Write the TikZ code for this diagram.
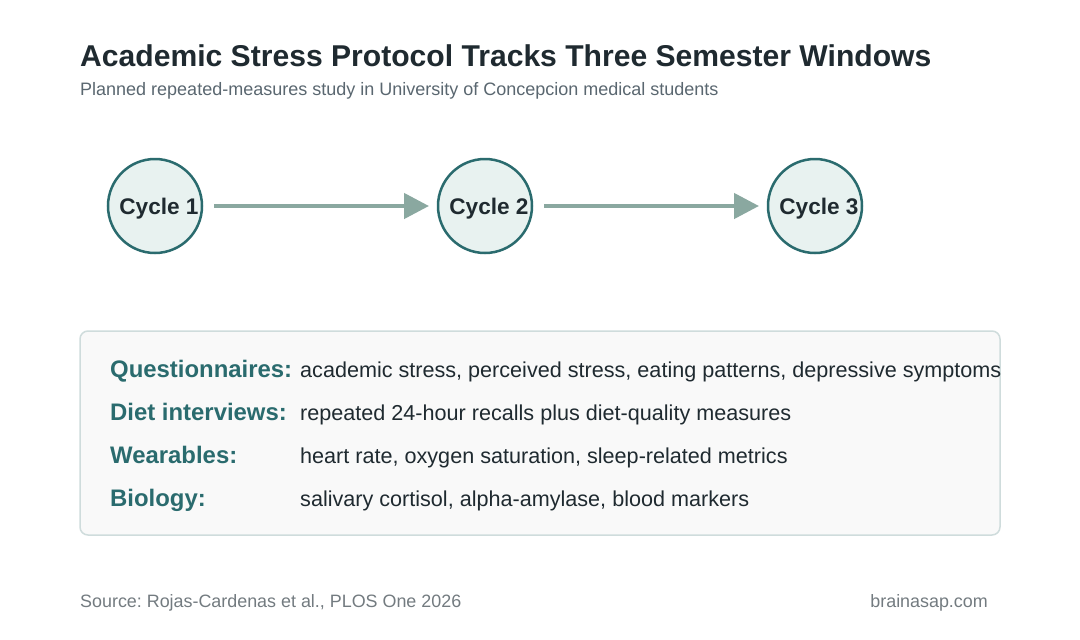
\documentclass[tikz,border=0pt]{standalone}
\usepackage{fontspec}
\setmainfont{Liberation Sans}
\frenchspacing
\usetikzlibrary{arrows.meta}
\definecolor{teal}{HTML}{2A6B6E}
\definecolor{circfill}{HTML}{E8F2F0}
\definecolor{dark}{HTML}{1F2A30}
\definecolor{subgray}{HTML}{5A6770}
\definecolor{footgray}{HTML}{737B80}
\definecolor{arrowc}{HTML}{8AA8A0}
\definecolor{boxfill}{HTML}{F9F9F9}
\definecolor{boxline}{HTML}{CFDCDC}
\tikzset{
  cyc/.style={circle, draw=teal, line width=2.5pt, fill=circfill, minimum size=94pt, inner sep=0pt},
  cyctext/.style={inner sep=0pt, xshift=4pt, yshift=-3pt, font=\fontsize{22.6}{26}\selectfont\bfseries, text=dark},
  flow/.style={draw=arrowc, line width=4.5pt, -{Triangle[length=25pt,width=25pt]}},
  lab/.style={anchor=base west, inner sep=0pt, font=\fontsize{23.9}{28}\selectfont\bfseries, text=teal},
  val/.style={anchor=base west, inner sep=0pt, font=\fontsize{21.6}{25}\selectfont, text=dark},
  foot/.style={inner sep=0pt, font=\fontsize{17.9}{21}\selectfont, text=footgray},
}
\begin{document}
\begin{tikzpicture}[x=1pt,y=-1pt]
\useasboundingbox[fill=white] (0,0) rectangle (1080,640);
\node[anchor=base west, inner sep=0pt, font=\fontsize{30.1}{35}\selectfont\bfseries, text=dark] (title) at (80,66) {Academic Stress Protocol Tracks Three Semester Windows};
\node[anchor=base west, inner sep=0pt, font=\fontsize{18}{21}\selectfont, text=subgray] (sub) at (80,95) {Planned repeated-measures study in University of Concepcion medical students};

\node[cyc] (c1) at (155,206) {};
\node[cyc] (c2) at (485,206) {};
\node[cyc] (c3) at (815,206) {};
\node[cyctext] (t1) at (c1) {Cycle 1};
\node[cyctext] (t2) at (c2) {Cycle 2};
\node[cyctext] (t3) at (c3) {Cycle 3};
\coordinate (a1s) at (214,206); \coordinate (a1e) at (429,206);
\coordinate (a2s) at (544,206); \coordinate (a2e) at (759,206);
\draw[flow] (a1s) -- (a1e);
\draw[flow] (a2s) -- (a2e);

\node[draw=boxline, line width=1.5pt, fill=boxfill, rounded corners=8pt, minimum width=920pt, minimum height=204pt, inner sep=0pt] (box) at (540,433) {};

\node[lab] (l1) at (110,377) {Questionnaires:};
\node[lab] (l2) at (110,420) {Diet interviews:};
\node[lab] (l3) at (110,463) {Wearables:};
\node[lab] (l4) at (110,506) {Biology:};
\node[val] (v1) at (300,377) {academic stress, perceived stress, eating patterns, depressive symptoms};
\node[val] (v2) at (300,420) {repeated 24-hour recalls plus diet-quality measures};
\node[val] (v3) at (300,463) {heart rate, oxygen saturation, sleep-related metrics};
\node[val] (v4) at (300,506) {salivary cortisol, alpha-amylase, blood markers};

\node[foot, anchor=base west] (src) at (80,607) {Source: Rojas-Cardenas et al., PLOS One 2026};
\node[foot, anchor=base east] (brand) at (988,607) {brainasap.com};
\end{tikzpicture}
\end{document}
